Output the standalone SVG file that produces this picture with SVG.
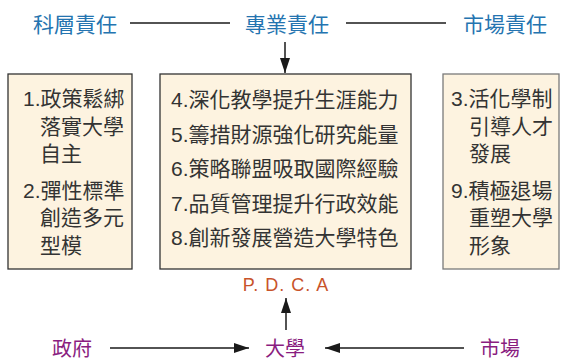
<svg xmlns="http://www.w3.org/2000/svg" width="562" height="359" viewBox="0 0 562 359">
  <defs>
    <marker id="ah" viewBox="0 0 15 10" refX="15" refY="5" markerWidth="15" markerHeight="10" markerUnits="userSpaceOnUse" orient="auto">
      <path d="M0,0 L15,5 L0,10 Z" fill="#1a1a1a"/>
    </marker>
    <style>
      .t { font-family: "Liberation Sans", "Noto Sans CJK TC", sans-serif; }
      .blue { fill: #2474b0; font-size: 21px; }
      .purple { fill: #8a1d80; font-size: 20px; }
      .box { fill: #fdf3e0; stroke: #333333; stroke-width: 1.3; }
      .boxr { fill: #fdf3e0; stroke: #7a7a7a; stroke-width: 1.3; }
      .bt { fill: #333333; font-size: 21px; }
      .pdca { fill: #c8532b; font-size: 18px; letter-spacing: 1px; }
      .ln { stroke: #1a1a1a; stroke-width: 1.5; fill: none; }
    </style>
  </defs>
  <rect width="562" height="359" fill="#ffffff"/>

  <g id="connectors">
    <line class="ln" x1="130" y1="23" x2="230" y2="23"/>
    <line class="ln" x1="346" y1="23" x2="446" y2="23"/>
    <line class="ln" x1="285" y1="42" x2="285" y2="73" marker-end="url(#ah)"/>
    <line class="ln" x1="286" y1="330" x2="286" y2="298" marker-end="url(#ah)"/>
    <line class="ln" x1="110" y1="348" x2="249" y2="348" marker-end="url(#ah)"/>
    <line class="ln" x1="464" y1="348" x2="325" y2="348" marker-end="url(#ah)"/>
  </g>

  <g id="label-keceng">
    <text class="t blue" x="75" y="32" text-anchor="middle">科層責任</text>
  </g>
  <g id="label-zhuanye">
    <text class="t blue" x="287" y="32" text-anchor="middle">專業責任</text>
  </g>
  <g id="label-shichang-top">
    <text class="t blue" x="505" y="32" text-anchor="middle">市場責任</text>
  </g>

  <g id="box-left">
    <rect class="box" x="8" y="74" width="124" height="195"/>
    <text class="t bt" x="23" y="106">1.政策鬆綁</text>
    <text class="t bt" x="40" y="133.5">落實大學</text>
    <text class="t bt" x="40" y="161">自主</text>
    <text class="t bt" x="23" y="197.5">2.彈性標準</text>
    <text class="t bt" x="40" y="225">創造多元</text>
    <text class="t bt" x="40" y="253">型模</text>
  </g>

  <g id="box-middle">
    <rect class="box" x="160" y="74" width="251" height="195"/>
    <text class="t bt" x="171" y="107">4.深化教學提升生涯能力</text>
    <text class="t bt" x="171" y="141.5">5.籌措財源強化研究能量</text>
    <text class="t bt" x="171" y="176">6.策略聯盟吸取國際經驗</text>
    <text class="t bt" x="171" y="210.5">7.品質管理提升行政效能</text>
    <text class="t bt" x="171" y="245">8.創新發展營造大學特色</text>
  </g>

  <g id="box-right">
    <rect class="boxr" x="443" y="74" width="116" height="195"/>
    <text class="t bt" x="451" y="106">3.活化學制</text>
    <text class="t bt" x="469" y="133.5">引導人才</text>
    <text class="t bt" x="469" y="161">發展</text>
    <text class="t bt" x="451" y="197.5">9.積極退場</text>
    <text class="t bt" x="469" y="225">重塑大學</text>
    <text class="t bt" x="469" y="253">形象</text>
  </g>

  <g id="label-pdca">
    <text class="t pdca" x="286" y="291" text-anchor="middle">P. D. C. A</text>
  </g>
  <g id="label-zhengfu">
    <text class="t purple" x="72" y="356" text-anchor="middle">政府</text>
  </g>
  <g id="label-daxue">
    <text class="t purple" x="285" y="356" text-anchor="middle">大學</text>
  </g>
  <g id="label-shichang">
    <text class="t purple" x="500" y="356" text-anchor="middle">市場</text>
  </g>
</svg>
